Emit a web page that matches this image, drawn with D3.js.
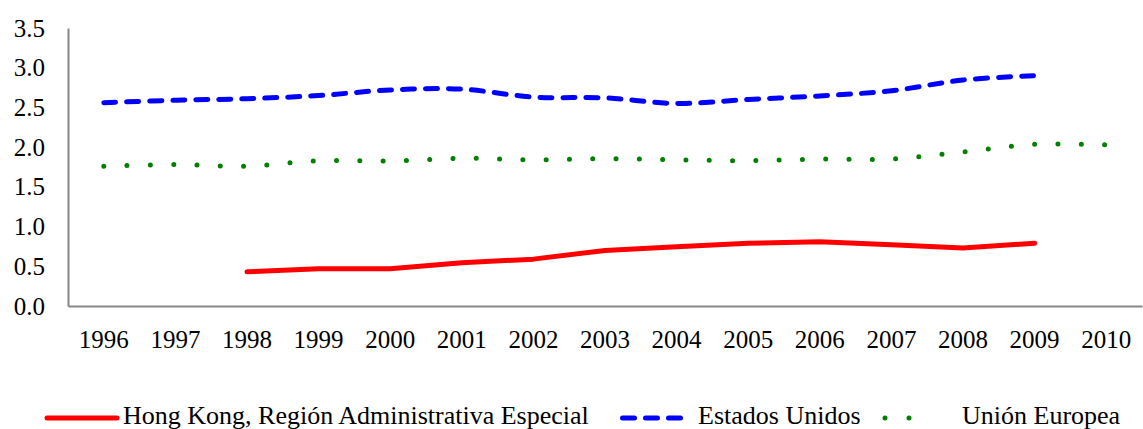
<!DOCTYPE html>
<html>
<head>
<meta charset="utf-8">
<script src="https://cdn.jsdelivr.net/npm/d3@7"></script>
<style>
  html, body { margin: 0; padding: 0; background: #fff; }
</style>
</head>
<body>
<svg id="chart"></svg>
<script>
// data
const years = ['1996', '1997', '1998', '1999', '2000', '2001', '2002', '2003',
               '2004', '2005', '2006', '2007', '2008', '2009', '2010'];
const hongKong = [null, null, 0.43, 0.47, 0.47, 0.545, 0.59, 0.70, 0.745, 0.79, 0.81, 0.77, 0.73, 0.79, null];
const estadosUnidos = [2.56, 2.59, 2.61, 2.65, 2.72, 2.73, 2.63, 2.62, 2.55, 2.60, 2.645, 2.71, 2.845, 2.90, null];
const unionEuropea = [1.76, 1.78, 1.76, 1.83, 1.825, 1.86, 1.84, 1.855, 1.84, 1.83, 1.85, 1.85, 1.94, 2.035, 2.03];
const yTicks = [0, 0.5, 1, 1.5, 2, 2.5, 3, 3.5];
const seriesNames = ['Hong Kong, Región Administrativa Especial', 'Estados Unidos', 'Unión Europea'];

var width = 1143;
var height = 429;
var margin = { top: 28, bottom: 123, left: 68, right: 1 };
var serif = '"Liberation Serif", "Times New Roman", Times, Tinos, "Nimbus Roman", "Noto Serif", "DejaVu Serif", FreeSerif, serif';

var svg = d3.select('#chart')
  .attr('width', width)
  .attr('height', height);

// scales
var x = d3.scaleBand()
  .domain(years)
  .range([margin.left, width - margin.right])
  .padding(0);

var y = d3.scaleLinear()
  .domain([0, 3.5])
  .range([height - margin.bottom, margin.top]);

// series styles
var styles = [
  { values: hongKong, color: '#ff0000', dash: null, curve: d3.curveLinear },
  { values: estadosUnidos, color: '#0000ff', dash: '12 11', curve: d3.curveCatmullRom.alpha(0.5) },
  { values: unionEuropea, color: '#008000', dash: '0 23.3', curve: d3.curveCatmullRom.alpha(0.5) }
];

// axes
var yAxis = svg.append('g')
  .attr('transform', 'translate(' + margin.left + ',0)')
  .call(d3.axisLeft(y).tickValues(yTicks).tickFormat(d3.format('.1f')).tickSize(0).tickSizeOuter(0).tickPadding(23));

var xAxis = svg.append('g')
  .attr('transform', 'translate(0,' + y(0) + ')')
  .call(d3.axisBottom(x).tickSize(0).tickSizeOuter(0).tickPadding(24));

[yAxis, xAxis].forEach(function(g) {
  g.attr('font-family', null).attr('font-size', null);
  g.select('.domain').attr('stroke', '#878787').attr('stroke-width', 2);
  g.selectAll('text')
    .style('font-family', serif)
    .style('font-size', '25px')
    .attr('fill', '#000');
});

// lines
styles.forEach(function(s) {
  var pts = years.map(function(yr, i) { return { year: yr, v: s.values[i] }; })
    .filter(function(d) { return d.v !== null; });

  var line = d3.line()
    .x(function(d) { return x(d.year) + x.bandwidth() / 2; })
    .y(function(d) { return y(d.v); })
    .curve(s.curve);

  svg.append('path')
    .datum(pts)
    .attr('d', line)
    .attr('fill', 'none')
    .attr('stroke', s.color)
    .attr('stroke-width', 5)
    .attr('stroke-linecap', 'round')
    .attr('stroke-linejoin', 'round')
    .attr('stroke-dasharray', s.dash);
});

// legend
var legendY = 418;
var legend = [
  { x1: 47, x2: 117, tx: 123 },
  { x1: 622.5, x2: 680.5, tx: 698 },
  { x1: 885, x2: 933, tx: 962 }
];

legend.forEach(function(l, i) {
  svg.append('line')
    .attr('x1', l.x1).attr('x2', l.x2)
    .attr('y1', legendY).attr('y2', legendY)
    .attr('stroke', styles[i].color)
    .attr('stroke-width', 5)
    .attr('stroke-linecap', 'round')
    .attr('stroke-dasharray', i === 2 ? '0 24' : styles[i].dash);

  svg.append('text')
    .attr('x', l.tx)
    .attr('y', 424)
    .style('font-family', serif)
    .style('font-size', '26px')
    .text(seriesNames[i]);
});
</script>
</body>
</html>
